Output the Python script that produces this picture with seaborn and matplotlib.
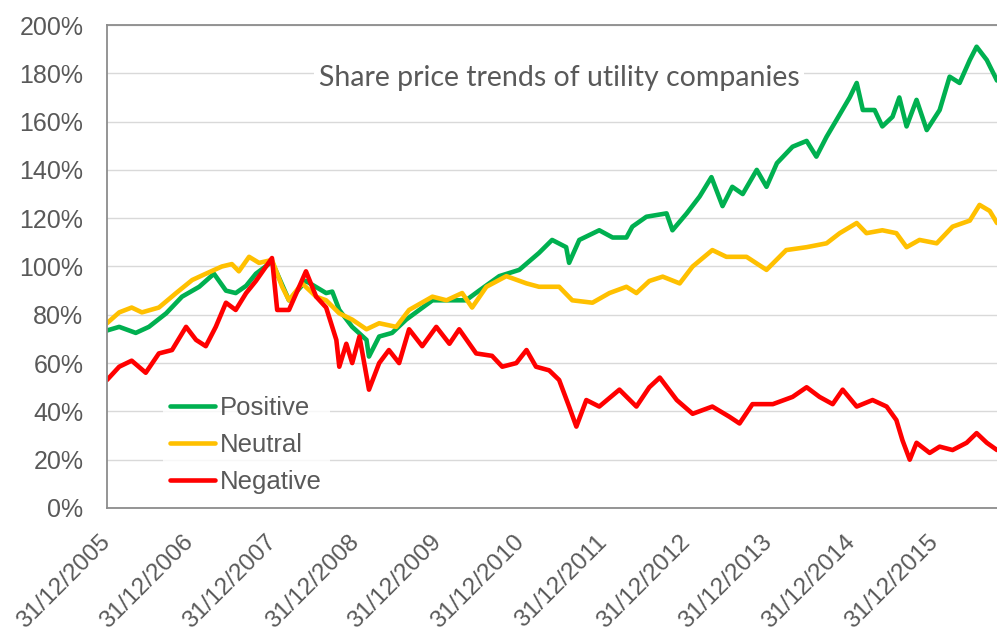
import pandas as pd
import numpy as np
import matplotlib
matplotlib.use("Agg")
import matplotlib.pyplot as plt
import matplotlib.dates as mdates
from matplotlib.ticker import PercentFormatter
import seaborn as sns

# values (percent of start level)
positive_dates = [
    "2005-12-31", "2006-02-23", "2006-05-07", "2006-07-04", "2006-09-18", "2006-11-27",
    "2007-02-11", "2007-04-17", "2007-06-09", "2007-07-22", "2007-09-06", "2007-10-19",
    "2007-12-29", "2008-03-13", "2008-05-27", "2008-08-24", "2008-09-20", "2008-10-21",
    "2008-12-17", "2009-02-18", "2009-03-01", "2009-04-15", "2009-06-11", "2009-08-12",
    "2009-12-06", "2010-02-19", "2010-05-03", "2010-06-30", "2010-09-27", "2010-12-24",
    "2011-03-21", "2011-05-18", "2011-07-19", "2011-08-01", "2011-09-15", "2011-12-12",
    "2012-02-09", "2012-04-10", "2012-05-06", "2012-07-07", "2012-10-04", "2012-10-30",
    "2013-01-01", "2013-02-27", "2013-04-20", "2013-06-08", "2013-07-21", "2013-09-05",
    "2013-11-06", "2013-12-19", "2014-02-03", "2014-04-13", "2014-06-14", "2014-07-27",
    "2014-09-10", "2014-10-24", "2014-12-21", "2015-01-21", "2015-02-17", "2015-04-10",
    "2015-05-14", "2015-06-28", "2015-07-28", "2015-08-29", "2015-10-12", "2015-11-26",
    "2016-01-22", "2016-03-06", "2016-04-19", "2016-06-03", "2016-07-03", "2016-08-17",
    "2016-10-01",
]
positive_vals = [
    73.5, 75, 72.5, 75, 80.6, 87.5,
    91.6, 97, 90, 89, 92, 97,
    102, 86, 94, 89, 89.6, 82,
    75, 69.6, 62.7, 71, 72.5, 78,
    86, 86, 86, 90, 96, 98.6,
    105.6, 111, 108, 101.5, 111, 115,
    112, 112, 116.5, 120.6, 122, 115,
    122, 129, 137, 125, 133, 130,
    140, 133, 142.8, 149.6, 152, 145.5,
    153.7, 160.7, 170, 176, 164.8, 164.8,
    158, 162, 170, 158, 169, 156.5,
    164.8, 178.6, 176, 185.5, 191, 185.5,
    177,
]

neutral_dates = [
    "2005-12-31", "2006-02-23", "2006-04-19", "2006-06-03", "2006-08-17", "2006-11-01",
    "2007-01-11", "2007-03-12", "2007-05-22", "2007-07-05", "2007-08-05", "2007-09-19",
    "2007-11-02", "2007-12-29", "2008-02-12", "2008-03-13", "2008-05-10", "2008-07-11",
    "2008-08-24", "2008-10-21", "2008-12-17", "2009-02-18", "2009-04-15", "2009-06-29",
    "2009-08-25", "2009-12-06", "2010-02-06", "2010-04-16", "2010-05-30", "2010-08-01",
    "2010-10-28", "2011-01-25", "2011-03-21", "2011-06-18", "2011-08-15", "2011-11-12",
    "2012-01-26", "2012-04-10", "2012-05-24", "2012-07-20", "2012-09-17", "2012-12-01",
    "2013-01-27", "2013-04-24", "2013-06-25", "2013-09-22", "2013-12-19", "2014-03-16",
    "2014-06-14", "2014-09-10", "2014-11-07", "2015-01-21", "2015-03-05", "2015-05-14",
    "2015-07-15", "2015-08-29", "2015-10-25", "2016-01-09", "2016-03-19", "2016-06-03",
    "2016-07-16", "2016-08-30", "2016-10-01",
]
neutral_vals = [
    76.5, 81, 83, 81, 83, 89,
    94.4, 97, 100, 101, 98, 104,
    101.5, 102.7, 91.6, 86, 93, 87.5,
    86, 80.6, 78, 74, 76.5, 75,
    82, 87.5, 86, 89, 83, 91.6,
    96, 93, 91.6, 91.6, 86, 85,
    89, 91.6, 89, 94, 95.8, 93,
    100, 106.8, 104, 104, 98.6, 106.8,
    108, 109.6, 113.8, 118, 113.8, 115,
    113.8, 108, 111, 109.6, 116.5, 119,
    125.5, 123, 118,
]

negative_dates = [
    "2005-12-31", "2006-02-23", "2006-04-19", "2006-06-20", "2006-08-17", "2006-10-14",
    "2006-12-15", "2007-01-28", "2007-03-12", "2007-04-25", "2007-06-09", "2007-07-22",
    "2007-09-06", "2007-10-19", "2007-12-29", "2008-01-21", "2008-03-13", "2008-05-27",
    "2008-07-11", "2008-08-24", "2008-10-08", "2008-10-21", "2008-11-21", "2008-12-17",
    "2009-01-18", "2009-03-01", "2009-04-15", "2009-05-28", "2009-07-12", "2009-08-25",
    "2009-10-22", "2009-12-23", "2010-02-19", "2010-04-03", "2010-06-17", "2010-08-26",
    "2010-10-10", "2010-12-11", "2011-01-25", "2011-03-08", "2011-05-05", "2011-06-18",
    "2011-08-01", "2011-09-02", "2011-10-16", "2011-12-12", "2012-03-10", "2012-05-24",
    "2012-07-20", "2012-09-04", "2012-11-18", "2013-01-27", "2013-04-24", "2013-07-08",
    "2013-08-22", "2013-10-18", "2014-01-16", "2014-04-13", "2014-06-14", "2014-08-10",
    "2014-10-07", "2014-11-20", "2015-01-21", "2015-04-01", "2015-06-02", "2015-07-15",
    "2015-08-11", "2015-09-12", "2015-10-12", "2015-12-09", "2016-01-22", "2016-03-19",
    "2016-05-20", "2016-07-03", "2016-08-17", "2016-10-01",
]
negative_vals = [
    53, 58.5, 61, 56, 64, 65.4,
    75, 69.6, 67, 75, 85, 82,
    89, 94, 103.5, 82, 82, 98,
    87.5, 83, 69.6, 58.5, 68, 60,
    71, 49, 60, 65.4, 60, 74,
    67, 75, 68, 74, 64, 63,
    58.5, 60, 65.4, 58.5, 57, 53,
    42, 33.7, 44.7, 42, 49, 42,
    50, 54, 44.7, 39, 42, 37.8,
    35, 43, 43, 46, 50, 46,
    43, 49, 42, 44.7, 42, 36.4,
    28, 20, 27, 22.8, 25.4, 24,
    27, 31, 27, 24,
]

series_names = ["Positive", "Neutral", "Negative"]
series_colors = ["#00B050", "#FFC000", "#FF0000"]
tick_dates = ["2005-12-31", "2006-12-31", "2007-12-31", "2008-12-31", "2009-12-31",
              "2010-12-31", "2011-12-31", "2012-12-31", "2013-12-31", "2014-12-31",
              "2015-12-31"]

frames = []
for name, d, v in zip(series_names,
                      [positive_dates, neutral_dates, negative_dates],
                      [positive_vals, neutral_vals, negative_vals]):
    frames.append(pd.DataFrame({"date": pd.to_datetime(d), "value": v, "series": name}))
df = pd.concat(frames, ignore_index=True)

sns.set_theme(style="white")
plt.rcParams["font.family"] = ["Liberation Sans", "DejaVu Sans"]

fig = plt.figure(figsize=(9.97, 6.33), dpi=100)
ax = fig.add_axes([0.1073, 0.1975, 0.8927, 0.763])

sns.lineplot(data=df, x="date", y="value", hue="series", hue_order=series_names,
             palette=series_colors, estimator=None, sort=False, linewidth=3.3, ax=ax)

ax.set_ylim(0, 200)
ax.set_yticks(np.arange(0, 201, 20))
ax.yaxis.set_major_formatter(PercentFormatter(xmax=100, decimals=0))
ax.set_xlim(pd.Timestamp("2005-12-31"), pd.Timestamp("2016-10-01"))
ax.set_xticks(pd.to_datetime(tick_dates))
ax.xaxis.set_major_formatter(mdates.DateFormatter("%d/%m/%Y"))
ax.set_xlabel("")
ax.set_ylabel("")

ax.grid(axis="y", color="#D9D9D9", linewidth=1)
ax.set_axisbelow(True)
for side in ["left", "top", "bottom"]:
    ax.spines[side].set_color("#8C8C8C")
    ax.spines[side].set_linewidth(1.3)
ax.spines["right"].set_visible(False)

ax.tick_params(axis="y", length=0, pad=17, labelsize=18, labelcolor="#595959")
ax.tick_params(axis="x", length=0, pad=22, labelsize=17.5, labelcolor="#595959")
for lab in ax.get_xticklabels():
    lab.set_rotation(45)
    lab.set_ha("right")
    lab.set_va("center")
    lab.set_rotation_mode("anchor")

ax.text(0.508, 0.890, "Share price trends of utility companies", transform=ax.transAxes,
        ha="center", va="center", fontsize=20.5, color="#595959", family=["Lato", "DejaVu Sans"],
        bbox=dict(facecolor="white", edgecolor="none", pad=3))

leg = ax.legend(loc="lower left", bbox_to_anchor=(0.048, -0.013), frameon=True, fontsize=18.5,
                handlelength=1.75, handletextpad=0.2, labelspacing=0.5, borderpad=0.3)
leg.get_frame().set_facecolor("white")
leg.get_frame().set_edgecolor("none")
for t in leg.get_texts():
    t.set_color("#595959")
for line in leg.get_lines():
    line.set_linewidth(3.3)

fig.savefig("out.png", dpi=100)
